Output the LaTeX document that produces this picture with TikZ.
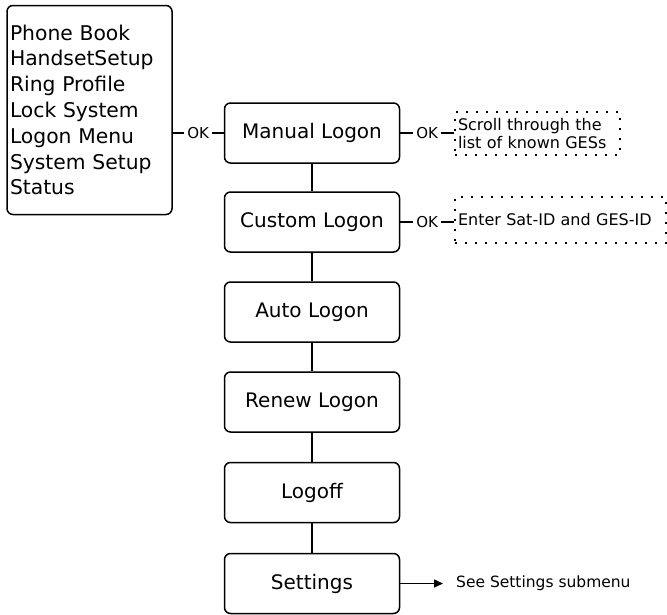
\documentclass[tikz,border=0pt]{standalone}
\usepackage{fontspec}
\setmainfont{DejaVu Sans}
\usepackage{tikz}
\usetikzlibrary{calc,arrows.meta}
\usetikzlibrary{positioning}

\begin{document}
\begin{tikzpicture}[
    x=1pt, y=1pt,
    menubox/.style={draw=black, line width=1.5pt, rounded corners=6pt, minimum width=175pt, minimum height=60pt, align=center, font=\fontsize{20}{23.5}\selectfont},
    listbox/.style={draw=black, line width=1.5pt, rounded corners=6pt, text width=159pt, inner xsep=3pt, minimum height=209pt, align=left, font=\fontsize{20.3}{25.8}\selectfont},
    hint/.style={draw=black, line width=1.6pt, dash pattern=on 1.6pt off 8.4pt, inner xsep=3pt, align=left, font=\fontsize{16}{18.5}\selectfont},
    oklabel/.style={fill=white, inner sep=3pt, font=\fontsize{15}{17}\selectfont},
    conn/.style={line width=1.5pt, draw=black}
]
\useasboundingbox (0,0) rectangle (667,-614);

% ── Hauptmenü links ────────────────────────────────
\node[listbox] (mainmenu) at (89.5,-110) {Phone Book\\HandsetSetup\\Ring Profile\\Lock System\\Logon Menu\\System Setup\\Status};

% ── Spalte Logon-Menü ──────────────────────────────
\node[menubox] (manual) at (312,-133) {Manual Logon};
\node[menubox] (custom) at (312,-222) {Custom Logon};
\node[menubox] (auto) at (312,-312) {Auto Logon};
\node[menubox] (renew) at (312,-402) {Renew Logon};
\node[menubox] (logoff) at (312,-492.5) {Logoff};
\node[menubox] (settings) at (312,-583.5) {Settings};

\draw[conn] (manual) -- (custom);
\draw[conn] (custom) -- (auto);
\draw[conn] (auto) -- (renew);
\draw[conn] (renew) -- (logoff);
\draw[conn] (logoff) -- (settings);

\draw[conn] (mainmenu.east |- manual) -- node[oklabel] {OK} (manual.west);

% ── Hinweise rechts ────────────────────────────────
\node[hint, text width=159pt, minimum height=43pt] (scroll) at (537.5,-133.5) {Scroll through the\\list of known GESs};
\node[hint, text width=205pt, minimum height=46pt] (enter) at (560.5,-220) {Enter Sat-ID and GES-ID};

\draw[conn] (manual.east) -- node[oklabel] {OK} (scroll.west |- manual);
\draw[conn] (custom.east) -- node[oklabel] {OK} (enter.west |- custom);

\node[anchor=west, inner sep=3pt, font=\fontsize{15.5}{18}\selectfont] (submenu) at (453,-583.5) {See Settings submenu};
\draw[conn, -{Triangle[length=9pt, width=8pt]}, shorten >=10pt] (settings.east) -- (submenu.west);

\end{tikzpicture}
\end{document}
